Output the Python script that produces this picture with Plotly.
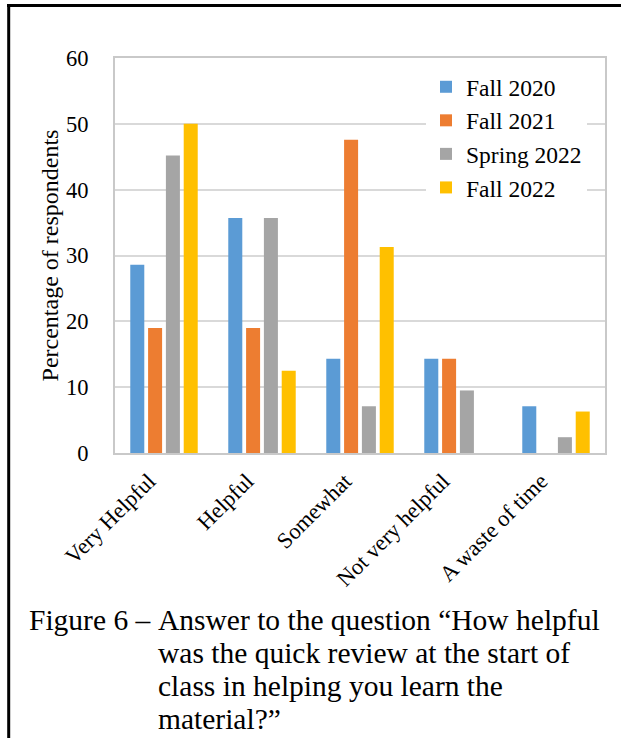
import plotly.graph_objects as go

# Survey answers (percentage of respondents per term)
categories = ["Very Helpful", "Helpful", "Somewhat", "Not very helpful", "A waste of time"]
fall_2020 = [28.6, 35.7, 14.3, 14.3, 7.1]
fall_2021 = [19.0, 19.0, 47.6, 14.3, 0.0]
spring_2022 = [45.2, 35.7, 7.1, 9.5, 2.4]
fall_2022 = [50.0, 12.5, 31.3, 0.0, 6.3]

series_names = ["Fall 2020", "Fall 2021", "Spring 2022", "Fall 2022"]
series_values = [fall_2020, fall_2021, spring_2022, fall_2022]
series_colors = ["#5B9BD5", "#ED7D31", "#A5A5A5", "#FFC000"]

y_ticks = [0, 10, 20, 30, 40, 50, 60]

caption_label = "Figure 6 \u2013"
caption_lines = [
    "Answer to the question \u201cHow helpful",
    "was the quick review at the start of",
    "class in helping you learn the",
    "material?\u201d",
]

W, H = 621, 738
L, R, T, B = 115, 16, 58, 285
PW, PH = W - L - R, H - T - B
FONT = "Liberation Serif"


def px_x(px):
    return (px - L) / PW


def px_y(py):
    return (H - B - py) / PH


fig = go.Figure()
for name, vals, col in zip(series_names, series_values, series_colors):
    fig.add_trace(go.Bar(
        x=categories, y=vals, name=name,
        marker=dict(color=col, line=dict(width=0)),
    ))

fig.update_layout(
    width=W, height=H,
    margin=dict(l=L, r=R, t=T, b=B, autoexpand=False),
    paper_bgcolor="white", plot_bgcolor="white",
    barmode="group", bargap=0.273, bargroupgap=0.213,
    font=dict(family=FONT, color="black"),
    showlegend=True,
    legend=dict(
        x=px_x(426), y=px_y(65), xanchor="left", yanchor="top",
        bgcolor="white", borderwidth=0,
        font=dict(family=FONT, size=23.5, color="black"),
        itemwidth=30,
    ),
)

fig.update_yaxes(
    range=[0, 60], tickvals=y_ticks, ticktext=[str(v) for v in y_ticks],
    showgrid=True, gridcolor="#d9d9d9", gridwidth=2,
    showline=True, linecolor="#c9c9c9", linewidth=2, mirror=True,
    zeroline=False, ticks="", ticklabelstandoff=20,
    tickfont=dict(family=FONT, size=22.5, color="black"),
    title=dict(text="Percentage of respondents", standoff=1,
               font=dict(family=FONT, size=24, color="black")),
)

fig.update_xaxes(
    showgrid=False,
    showline=True, linecolor="#c9c9c9", linewidth=2, mirror=True,
    ticks="", tickangle=-45, ticklabelshift=-15, ticklabelstandoff=4,
    tickfont=dict(family=FONT, size=22.5, color="black"),
)

# Caption below the chart
cap_y = [620, 653, 686, 719]
fig.add_annotation(
    x=px_x(28), y=px_y(cap_y[0]), xref="paper", yref="paper",
    xanchor="left", yanchor="middle", showarrow=False, text=caption_label,
    borderpad=0, font=dict(family=FONT, size=29.5, color="black"),
)
for line, yy in zip(caption_lines, cap_y):
    fig.add_annotation(
        x=px_x(157), y=px_y(yy), xref="paper", yref="paper",
        xanchor="left", yanchor="middle", showarrow=False, text=line,
        borderpad=0, font=dict(family=FONT, size=29.5, color="black"),
    )

# Frame lines along the top and left edges of the page
fig.add_shape(type="line", xref="paper", yref="paper",
              x0=px_x(7), x1=px_x(W + 2), y0=px_y(5.5), y1=px_y(5.5),
              line=dict(color="black", width=3))
fig.add_shape(type="line", xref="paper", yref="paper",
              x0=px_x(8.7), x1=px_x(8.7), y0=px_y(4), y1=px_y(H + 2),
              line=dict(color="black", width=3))

fig.write_html("out.html")
